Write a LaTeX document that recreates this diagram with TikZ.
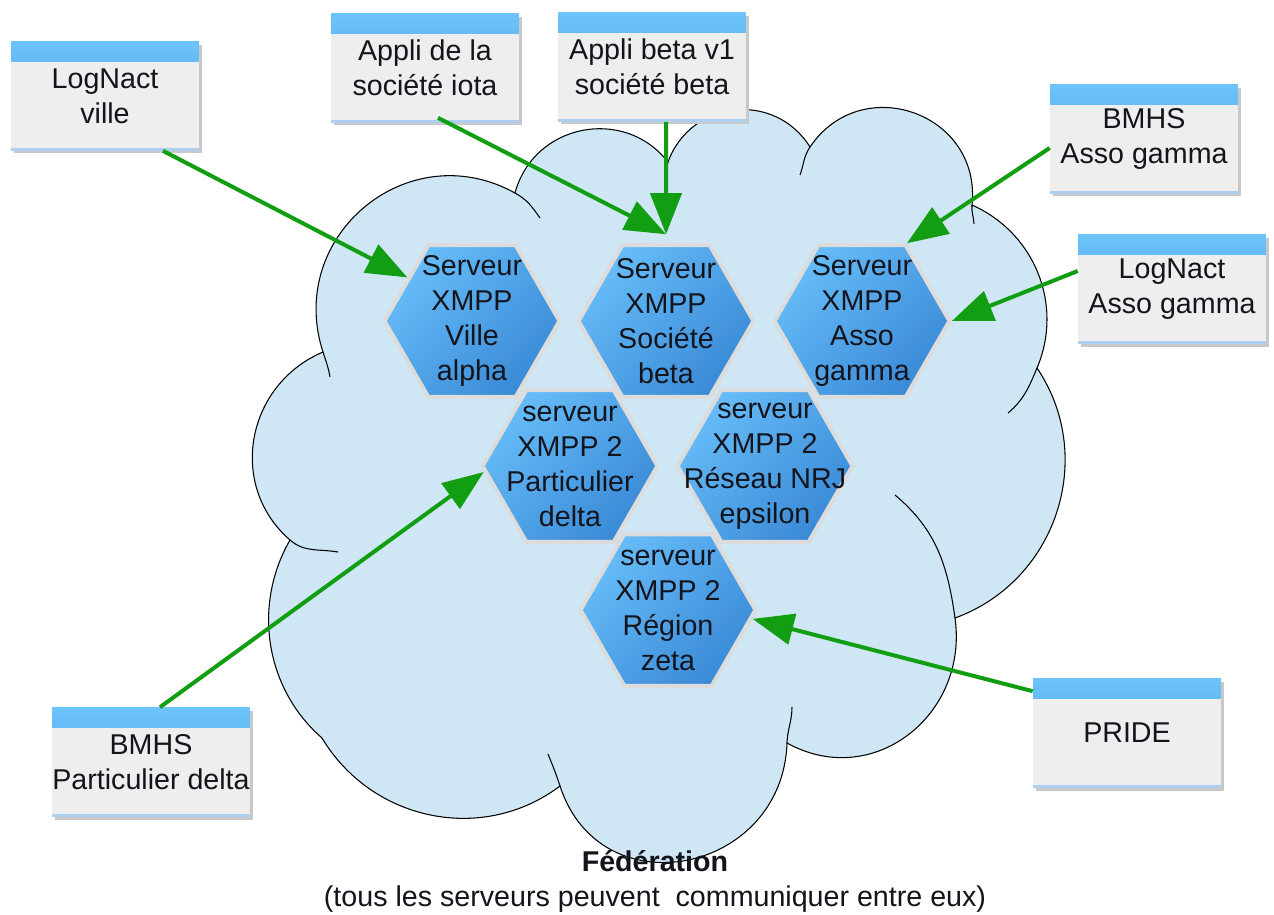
\documentclass[tikz,border=0pt]{standalone}
\usepackage{fontspec}
\setmainfont{Liberation Sans}
\usepackage{tikz}
\usetikzlibrary{arrows.meta, shapes.geometric, shadows}
\usepackage{xcolor}
\definecolor{cloudblue}{RGB}{207,230,245}
\definecolor{hexlight}{RGB}{102,188,248}
\definecolor{hexdark}{RGB}{58,138,214}
\definecolor{hexborder}{RGB}{220,220,220}
\definecolor{boxgrey}{RGB}{238,238,238}
\definecolor{striptop}{RGB}{108,196,250}
\definecolor{stripbot}{RGB}{70,150,225}
\definecolor{shadowgrey}{RGB}{200,200,200}
\definecolor{feedgreen}{RGB}{18,158,18}
\definecolor{textdark}{RGB}{20,20,28}
\newcommand{\diagfont}{\fontsize{16.3}{19.9}\selectfont}
\tikzstyle{client}    = [rectangle, minimum width=3.76cm, minimum height=2.18cm,
    inner xsep=0pt, fill=boxgrey, align=center, font=\diagfont, text=textdark,
    drop shadow={shadow xshift=0.06cm, shadow yshift=-0.06cm, fill=shadowgrey, opacity=1},
    path picture={
      \fill[top color=striptop, bottom color=stripbot]
        (path picture bounding box.north west) rectangle ([yshift=-0.4cm]path picture bounding box.north east);
      \draw[stripbot!45, line width=0.1cm]
        (path picture bounding box.south west) -- (path picture bounding box.south east);}]
\tikzstyle{server}    = [regular polygon, regular polygon sides=6, minimum size=3.5cm,
    inner sep=0pt, draw=hexborder, line width=0.08cm,
    top color=hexlight, bottom color=hexdark, shading angle=45]
\tikzstyle{srvtext}   = [align=center, font=\diagfont, text=textdark, inner sep=0pt]
\tikzstyle{caption}   = [align=center, font=\diagfont, text=textdark]
\tikzstyle{cloudline} = [draw=black, line width=0.6pt]
\tikzstyle{feed}      = [draw=feedgreen, line width=0.08cm,
    -{Triangle[length=0.82cm, width=0.62cm]}]

\begin{document}
\begin{tikzpicture}[x=0.02cm, y=0.02cm]
    \useasboundingbox (0,0) rectangle (1274,-914);
    \fill[white] (0,0) rectangle (1274,-914);

    % the federation cloud, bump by bump
    \path[cloudline, fill=cloudblue]
        (323,-352) to[out=108, in=151, looseness=1.25] (515,-193)
        to[out=75, in=128, looseness=1.17] (668,-162)
        to[out=70, in=122, looseness=1.19] (810,-147)
        to[out=56, in=84, looseness=1.37] (972,-205)
        to[out=-24, in=67, looseness=1.0] (1037,-368)
        to[out=-56, in=20, looseness=1.05] (955,-618)
        to[out=-82, in=-29, looseness=1.2] (787,-743)
        to[out=-92, in=-72, looseness=1.45] (560,-786)
        to[out=-143, in=-59, looseness=1.02] (322,-738)
        to[out=139, in=-120, looseness=0.96] (290,-540)
        to[out=139, in=-157, looseness=1.12] (323,-352)
        -- cycle;
    % small inner tails where the bumps overlap
    \draw[cloudline]
        (515,-193) to[out=-29, in=125] (540,-218)
        (667,-188) to[out=88, in=-110] (668,-162)
        (800,-175) to[out=70, in=-124] (810,-147)
        (972,-205) to[out=-96, in=92] (974,-224)
        (1037,-368) to[out=-113, in=40] (1008,-413)
        (895,-495) to[out=-40, in=98] (955,-618)
        (792,-707) to[out=-90, in=88] (787,-743)
        (560,-786) to[out=108, in=-68] (548,-754)
        (338,-552) to[out=170, in=-41] (290,-540)
        (330,-377) to[out=100, in=-72] (323,-352);

    % XMPP servers
    \node (alpha)   [server, label={[srvtext]center:Serveur\\XMPP\\Ville\\alpha}]          at (472,-321) {};
    \node (beta)    [server, label={[srvtext]center:Serveur\\XMPP\\Société\\beta}]         at (666,-321) {};
    \node (gamma)   [server, label={[srvtext]center:Serveur\\XMPP\\Asso\\gamma}]           at (862,-321) {};
    \node (delta)   [server, label={[srvtext]center:serveur\\XMPP 2\\Particulier\\delta}]  at (570,-466) {};
    \node (epsilon) [server, label={[srvtext]center:serveur\\XMPP 2\\Réseau NRJ\\epsilon}] at (765,-466) {};
    \node (zeta)    [server, label={[srvtext]center:serveur\\XMPP 2\\Région\\zeta}]        at (668,-610) {};

    % client applications
    \node (lognactville) [client] at (105,-96)    {LogNact\\ville};
    \node (iota)         [client] at (425,-68)    {Appli de la\\société iota};
    \node (betav1)       [client] at (652,-67)    {Appli beta v1\\société beta};
    \node (bmhsgamma)    [client] at (1144,-139)  {BMHS\\Asso gamma};
    \node (lognactgamma) [client] at (1172,-289)  {LogNact\\Asso gamma};
    \node (pride)        [client] at (1127,-733)  {PRIDE};
    \node (bmhsdelta)    [client] at (151,-762)   {BMHS\\Particulier delta};

    \node (fed) [caption] at (655,-881) {\textbf{Fédération}\\(tous les serveurs peuvent\ \ communiquer entre eux)};

    % client -> server links
    \draw [feed] ([xshift=1.16cm]lognactville.south)        -- (alpha.146);
    \draw [feed] ([xshift=0.26cm,yshift=0.1cm]iota.south)   -- ([yshift=0.18cm]beta.north);
    \draw [feed] ([xshift=0.28cm]betav1.south)              -- ([yshift=0.18cm]beta.north);
    \draw [feed] ([yshift=-0.18cm]bmhsgamma.west)           -- (gamma.60);
    \draw [feed] ([yshift=0.36cm]lognactgamma.west)         -- (gamma.east);
    \draw [feed] ([xshift=0.18cm]bmhsdelta.north)           -- (delta.184);
    \draw [feed] ([yshift=-0.26cm]pride.north west)         -- (zeta.-6);
\end{tikzpicture}
\end{document}
